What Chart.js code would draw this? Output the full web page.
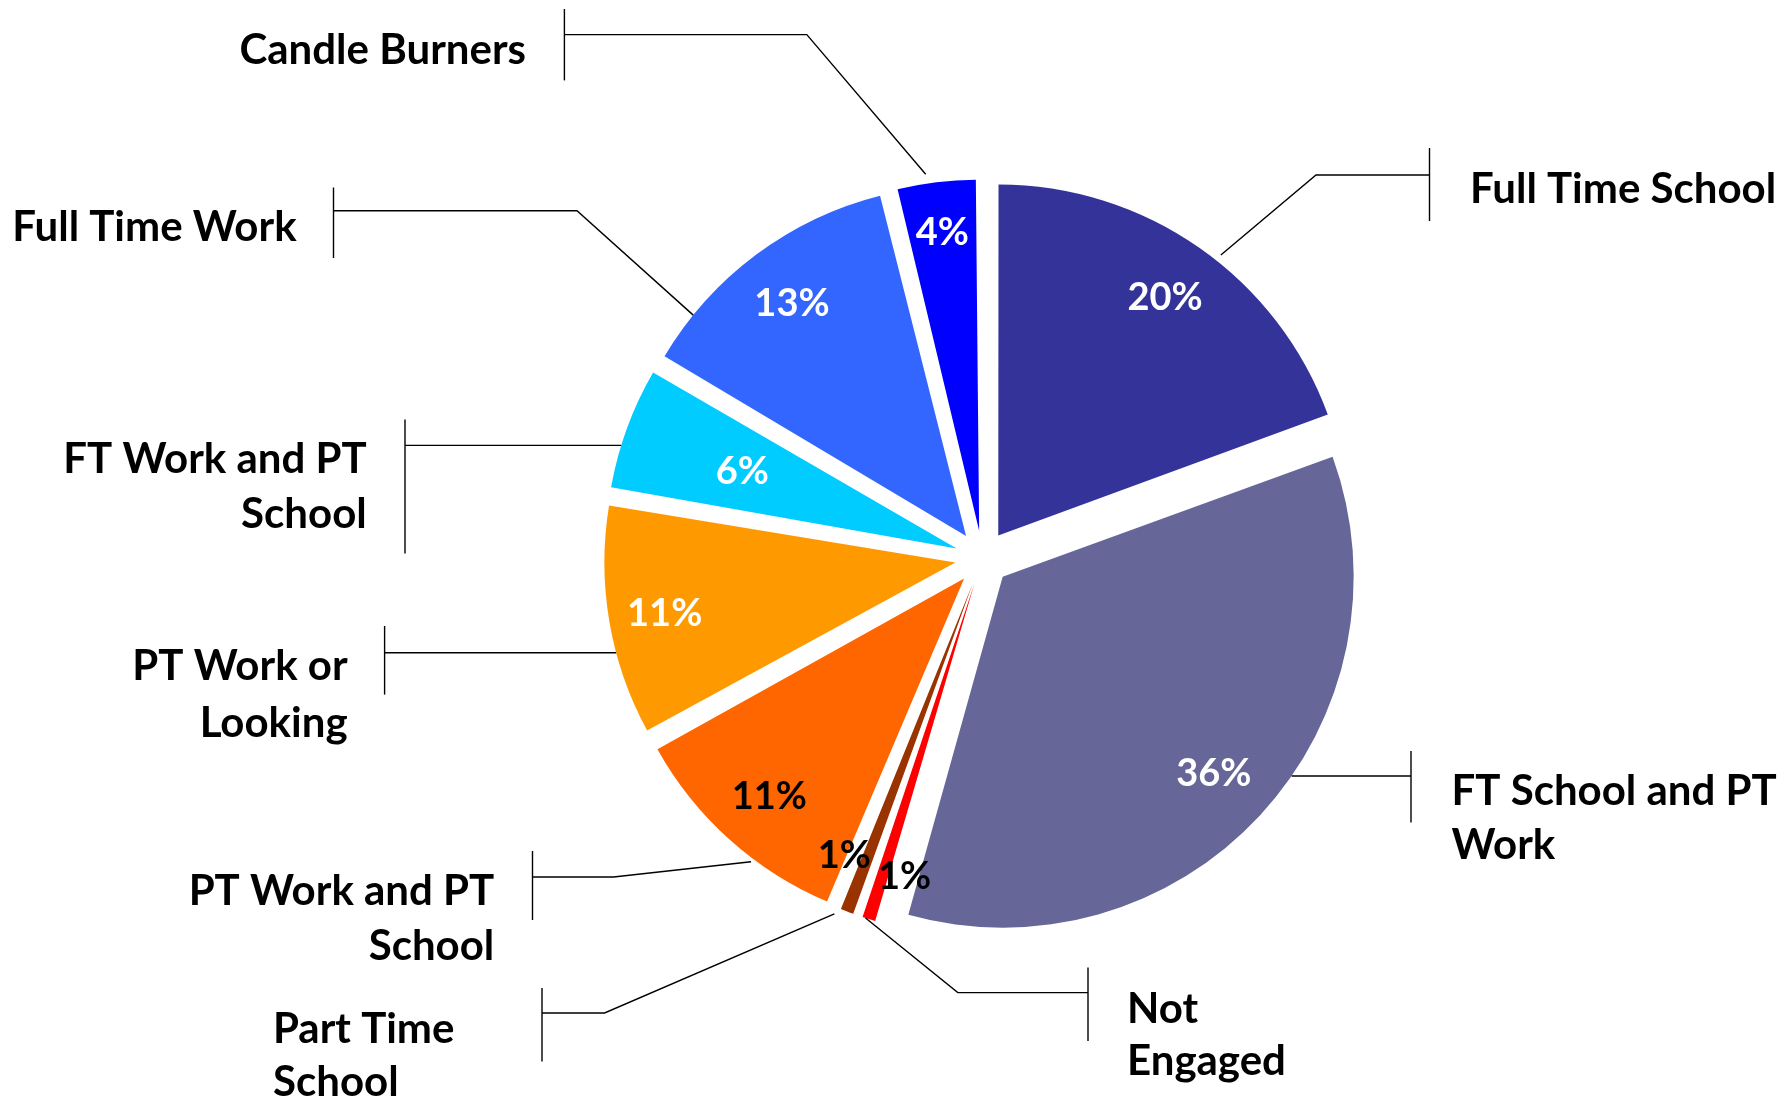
<!DOCTYPE html>
<html>
<head>
<meta charset="utf-8">
<script src="https://cdn.jsdelivr.net/npm/chart.js@4.4.1/dist/chart.umd.min.js"></script>
<style>
html,body{margin:0;padding:0;background:#ffffff;}
#wrap{width:1790px;height:1101px;position:relative;}
</style>
</head>
<body>
<div id="wrap"><canvas id="c"></canvas></div>
<script>
// ---- data ----
const categories = ["Full Time School","FT School and PT Work","Not Engaged","Part Time School","PT Work and PT School","PT Work or Looking","FT Work and PT School","Full Time Work","Candle Burners"];
const sharePercent = [20, 36, 1, 1, 11, 11, 6, 13, 4];
const categoryLines = [["Full Time School"],["FT School and PT","Work"],["Not","Engaged"],["Part Time","School"],["PT Work and PT","School"],["PT Work or","Looking"],["FT Work and PT","School"],["Full Time Work"],["Candle Burners"]];

// ---- styles ----
const sliceColors = ["#333399","#666699","#FF0000","#993300","#FF6600","#FF9900","#00CCFF","#3366FF","#0000FF"];
const pctColors = ["#ffffff","#ffffff","#000000","#000000","#000000","#ffffff","#ffffff","#ffffff","#ffffff"];
const pctRadial = [0.83,0.82,0.853,0.853,0.83,0.84,0.65,0.83,0.86];
const pctShiftDeg = [0,0,-4,4.4,0,0,0,0,0];
const RADIUS = 351;
const OFFSET = 110;
const NAME_FONT = "bold 42px Lato";
const PCT_FONT = "bold 38px Lato";
// callout layout (annotation positions)
const callouts = [
  {align:"left", textX:1470, baselines:[203], barX:1429.5, barTop:148, barBottom:221, lineY:175, elbowX:1316, frac:0.55, k:1.02, side:1},
  {align:"left", textX:1451.5, baselines:[805,858.5], barX:1411, barTop:751, barBottom:822.6, lineY:776, elbowX:null, side:1},
  {align:"left", textX:1127, baselines:[1023,1075], barX:1088, barTop:967.5, barBottom:1041, lineY:992.6, elbowX:957.8, frac:0.66, k:1.0, side:1},
  {align:"left", textX:273, baselines:[1042.7,1096], barX:542, barTop:988, barBottom:1061.6, lineY:1013, elbowX:604.6, frac:1.0, k:1.02, side:-1},
  {align:"right", textX:494.3, baselines:[905,960], barX:532.5, barTop:851, barBottom:920, lineY:877, elbowX:613.5, frac:0.37, k:1.01, side:-1},
  {align:"right", textX:347.6, baselines:[679.5,737], barX:384.6, barTop:626, barBottom:694.6, lineY:652.7, elbowX:null, side:-1},
  {align:"right", textX:366.7, baselines:[473,527.5], barX:405, barTop:419.6, barBottom:553.6, lineY:445.4, elbowX:null, side:-1},
  {align:"right", textX:296.6, baselines:[241], barX:333.5, barTop:187.5, barBottom:258, lineY:210.7, elbowX:577, frac:0.185, k:1.0, side:-1},
  {align:"right", textX:526, baselines:[64], barX:564.4, barTop:9, barBottom:80.4, lineY:34.6, elbowX:806.8, frac:0.39, k:1.027, side:-1}
];

function arcCenter(arc){
  const mid = (arc.startAngle + arc.endAngle)/2;
  return {x: arc.x + Math.cos(mid)*OFFSET/4, y: arc.y + Math.sin(mid)*OFFSET/4, mid};
}

const calloutPlugin = {
  id: "callouts",
  beforeDatasetsDraw(chart){
    const meta = chart.getDatasetMeta(0);
    meta.data.forEach(arc => {
      const circ = arc.endAngle - arc.startAngle;
      const fix = 1 - Math.sin(Math.min(Math.PI, circ));
      arc.outerRadius = RADIUS - (OFFSET/4)*fix;
    });
  },
  afterDatasetsDraw(chart){
    const ctx = chart.ctx;
    const meta = chart.getDatasetMeta(0);
    ctx.save();
    // percentage labels
    ctx.font = PCT_FONT;
    ctx.textAlign = "center";
    ctx.textBaseline = "alphabetic";
    meta.data.forEach((arc,i) => {
      const c = arcCenter(arc);
      const a = c.mid + pctShiftDeg[i]*Math.PI/180;
      const r = RADIUS*pctRadial[i];
      const x = c.x + Math.cos(a)*r, y = c.y + Math.sin(a)*r;
      ctx.fillStyle = pctColors[i];
      ctx.fillText(sharePercent[i] + "%", x, y + 13.8);
    });
    // leader lines
    ctx.strokeStyle = "#000000";
    ctx.lineWidth = 1.4;
    meta.data.forEach((arc,i) => {
      const L = callouts[i];
      const c = arcCenter(arc);
      let sx, sy;
      if (L.elbowX === null){
        const dy = L.lineY - c.y;
        const dx = Math.sqrt(Math.max(RADIUS*RADIUS - dy*dy, 0));
        sx = c.x + L.side*dx; sy = L.lineY;
      } else {
        const a = arc.startAngle + L.frac*(arc.endAngle - arc.startAngle);
        sx = c.x + Math.cos(a)*RADIUS*L.k; sy = c.y + Math.sin(a)*RADIUS*L.k;
      }
      ctx.beginPath();
      ctx.moveTo(sx, sy);
      if (L.elbowX !== null) ctx.lineTo(L.elbowX, L.lineY);
      ctx.lineTo(L.barX, L.lineY);
      ctx.stroke();
      ctx.beginPath();
      ctx.moveTo(L.barX, L.barTop);
      ctx.lineTo(L.barX, L.barBottom);
      ctx.stroke();
      // category text
      ctx.font = NAME_FONT;
      ctx.fillStyle = "#000000";
      ctx.textAlign = L.align;
      categoryLines[i].forEach((t,j) => ctx.fillText(t, L.textX, L.baselines[j]));
    });
    ctx.restore();
  }
};

new Chart(document.getElementById("c"), {
  type: "pie",
  data: {
    labels: categories,
    datasets: [{
      data: sharePercent,
      backgroundColor: sliceColors,
      borderWidth: 0,
      offset: OFFSET,
      radius: RADIUS
    }]
  },
  options: {
    responsive: true,
    maintainAspectRatio: false,
    animation: false,
    layout: {padding: {left: 175, right: 0, top: 15, bottom: 0}},
    plugins: {legend: {display: false}, tooltip: {enabled: false}},
    events: []
  },
  plugins: [calloutPlugin]
});
</script>
</body>
</html>
